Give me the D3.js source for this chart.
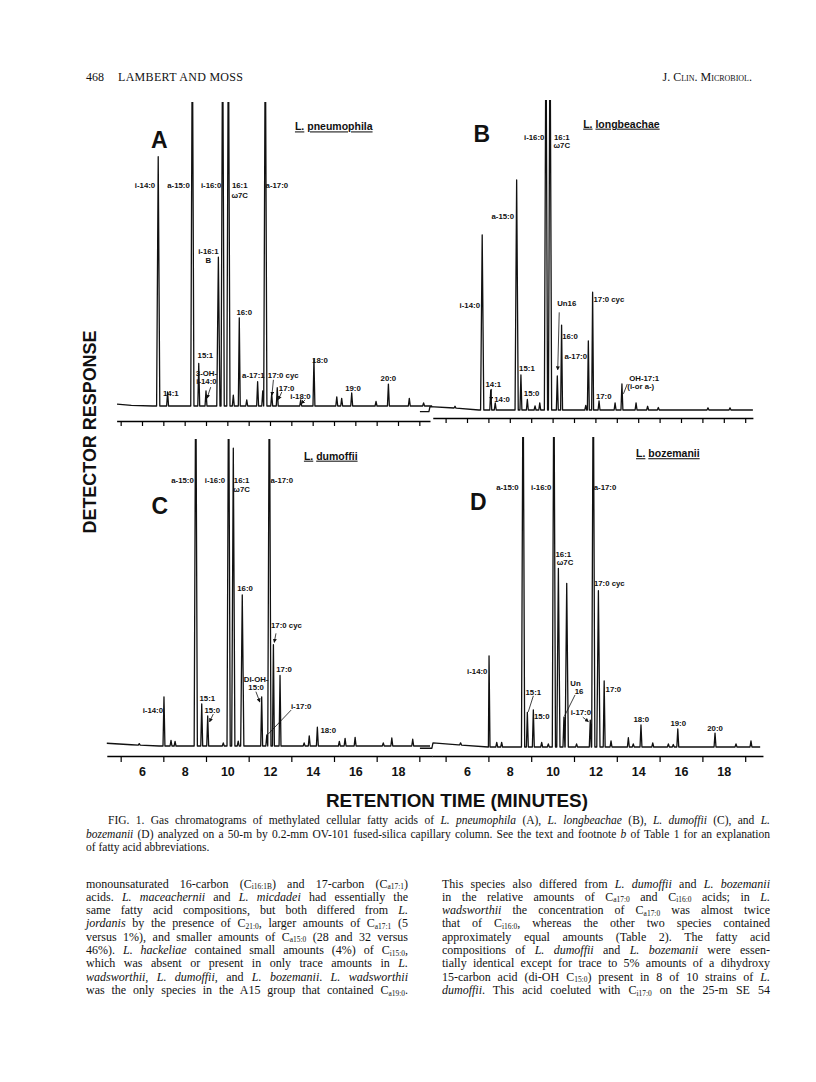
<!DOCTYPE html>
<html>
<head>
<meta charset="utf-8">
<script src="https://cdn.jsdelivr.net/npm/d3@7"></script>
<style>
body { margin: 0; background: #fff; }
svg text { fill: #111; }
.pk { font-family: "Liberation Sans Narrow", "Liberation Sans", Arial, sans-serif; font-weight: bold; font-size: 7.8px; }
.letter { font-family: "Liberation Sans", Arial, sans-serif; font-weight: bold; font-size: 23px; }
.species { font-family: "Liberation Sans", Arial, sans-serif; font-weight: bold; font-size: 10.5px; }
.axlab { font-family: "Liberation Sans Narrow", "Liberation Sans", Arial, sans-serif; font-weight: bold; font-size: 12.5px; }
.title { font-family: "Liberation Sans Narrow", "Liberation Sans", Arial, sans-serif; font-weight: bold; }
.serif { font-family: "Liberation Serif", "Times New Roman", serif; }
</style>
</head>
<body>
<svg id="page" width="816" height="1082"></svg>
<script>
// peaks: [retention time (min), response (% of panel height)]; >100 = off scale
var peaksA = [[6.76, 82], [7.20, 4.6], [8.36, 130], [8.66, 14], [9.00, 5], [9.58, 49], [9.78, 130],
    [10.05, 130], [10.28, 3.6], [10.56, 29], [10.91, 2], [11.42, 8], [11.66, 5], [11.78, 130],
    [12.08, 4], [12.34, 6], [13.44, 2], [14.06, 15.5], [15.13, 3], [15.36, 2.5], [15.83, 4.3],
    [16.97, 1.5], [17.55, 7.2], [18.53, 2.5], [19.2, 1]];
var peaksB = [[5.44, 0.6], [6.71, 56.5], [7.11, 6.5], [7.32, 2.3], [8.32, 74.2], [8.52, 11.3],
    [8.82, 3.4], [9.18, 1.3], [9.40, 2.3], [9.69, 130], [9.88, 130], [10.22, 11], [10.42, 27.4],
    [11.55, 1.5], [11.67, 22.3], [11.87, 38], [12.17, 2.9], [12.92, 2.3], [13.24, 8.4],
    [13.90, 2.3], [14.44, 1.2], [14.94, 0.8], [17.26, 0.7], [18.29, 0.7]];
var peaksC = [[5.87, 0.5], [7.03, 16], [7.36, 1.8], [7.55, 1.5], [8.52, 130], [8.80, 13.7],
    [9.08, 9.8], [9.81, 1], [10.06, 130], [10.28, 97], [10.51, 1.6], [10.70, 49.2], [11.61, 16],
    [11.85, 3.6], [11.97, 130], [12.16, 33], [12.47, 23], [13.60, 1], [13.84, 3.3], [14.22, 6.1],
    [15.25, 1.5], [15.52, 2.5], [15.99, 2.8], [17.31, 1], [17.71, 2.6], [18.69, 2.2]];
var peaksD = [[5.70, 0.7], [7.03, 29.4], [7.39, 1.5], [7.62, 1.5], [8.62, 130], [8.82, 11.2],
    [9.10, 12], [9.49, 1.5], [9.80, 1], [10.06, 130], [10.27, 57.6], [10.53, 9.6], [10.66, 52.8],
    [11.12, 1], [11.76, 8.7], [11.90, 130], [12.14, 50.4], [12.41, 21.3], [12.73, 2], [13.54, 3],
    [13.77, 1], [14.13, 7.1], [14.68, 1.3], [15.41, 1], [15.64, 0.8], [15.85, 5.8], [17.59, 4.5],
    [18.57, 1], [19.27, 2]];

// slow baseline drift: [time, level]
var driftA = [[4.83, 0.6], [5.5, 0.2], [6.5, 0], [19.6, 0]];
var driftB = [[3.8, -0.5], [4.22, -0.5], [4.27, 1.1], [5.5, 0.6], [6.55, 0], [19.36, 0]];
var driftC = [[4.35, 0.9], [5.5, 0.4], [6.8, 0], [19.5, 0]];
var driftD = [[3.8, -0.4], [4.36, -0.4], [4.41, 1.3], [5.6, 0.7], [7.0, 0], [19.7, 0]];

// peak labels: [text, time, response]
var labelsA = [["i-14:0", 6.14, 72.7], ["a-15:0", 7.71, 72.7], ["i-16:0", 9.24, 72.7],
    ["16:1", 10.58, 72.7], ["\u03c97C", 10.58, 69.4], ["a-17:0", 12.32, 72.7],
    ["i-16:1", 9.11, 50.8], ["B", 9.11, 47.8], ["16:0", 10.79, 30.8], ["15:1", 8.97, 16.8],
    ["3-OH-", 9.02, 10.8], ["i-14:0", 9.02, 8.0], ["14:1", 7.35, 4.2], ["a-17:1", 11.22, 10.2],
    ["17:0 cyc", 12.62, 10.2], ["17:0", 12.78, 5.8], ["i-18:0", 13.43, 3.3], ["18:0", 14.34, 15.1],
    ["19:0", 15.89, 5.8], ["20:0", 17.55, 9.1]];
var labelsB = [["i-16:0", 9.14, 88], ["16:1", 10.43, 88], ["\u03c97C", 10.43, 85.5],
    ["a-15:0", 7.67, 62.4], ["i-14:0", 6.13, 33.9], ["Un16", 10.66, 34.4], ["16:0", 10.81, 23.9],
    ["a-17:0", 11.08, 17.4], ["17:0 cyc", 12.63, 35.7], ["15:1", 8.80, 13.5], ["14:1", 7.23, 8.4],
    ["14:0", 7.64, 3.5], ["15:0", 9.02, 5.4], ["17:0", 12.39, 4.3], ["OH-17:1", 14.28, 10.2],
    ["(i-or a-)", 14.12, 7.5]];
var labelsC = [["a-15:0", 7.90, 86.6], ["i-16:0", 9.42, 86.6], ["16:1", 10.67, 86.6],
    ["\u03c97C", 10.67, 83.7], ["a-17:0", 12.55, 86.6], ["16:0", 10.83, 51.4],
    ["17:0 cyc", 12.77, 39.2], ["17:0", 12.66, 25], ["DI-OH-", 11.35, 21.7], ["15:0", 11.35, 19.1],
    ["15:1", 9.06, 15.5], ["15:0", 9.29, 11.7], ["i-14:0", 6.51, 11.5], ["i-17:0", 13.46, 12.8],
    ["18:0", 14.73, 5.2]];
var labelsD = [["a-15:0", 7.89, 83.8], ["i-16:0", 9.47, 83.8], ["a-17:0", 12.45, 83.8],
    ["16:1", 10.5, 62.3], ["\u03c97C", 10.58, 59.5], ["17:0 cyc", 12.65, 52.8],
    ["i-14:0", 6.48, 24.5], ["15:1", 9.10, 17.8], ["Un", 11.07, 20.5], ["16", 11.24, 18.1],
    ["17:0", 12.84, 18.6], ["15:0", 9.49, 10], ["i-17:0", 11.32, 11.1], ["18:0", 14.14, 8.9],
    ["19:0", 15.87, 7.6], ["20:0", 17.59, 6.0]];

// pointer lines: [t1, v1, t2, v2, arrowhead]
var arrowsA = [[9.22, 6.2, 9.05, 2.6, 1], [12.16, 8.6, 12.09, 3.6, 1], [12.55, 4.6, 12.40, 2.2, 1],
    [13.64, 2.0, 13.48, 0.8, 1]];
var arrowsB = [[10.31, 31.5, 10.24, 13, 1], [7.15, 6.8, 7.12, 3.2, 1], [13.49, 8.4, 13.31, 5.2, 0]];
var arrowsC = [[12.28, 36.7, 12.20, 33.8, 1], [11.34, 17.7, 11.52, 14.4, 1],
    [9.34, 10.4, 9.17, 7.9, 1], [12.99, 11.7, 11.92, 3.9, 0]];
var arrowsD = [[9.10, 16.5, 8.86, 11.3, 0], [11.05, 16.8, 10.55, 9.9, 0], [11.41, 9.6, 11.67, 8.2, 1]];

var minorTicks = d3.range(5, 20);
var oddTicks = [5, 7, 9, 11, 13, 15, 17, 19];
var evenTicks = [6, 8, 10, 12, 14, 16, 18];

var leftLines = [
    "monounsaturated 16-carbon (C_{i16:1B}) and 17-carbon (C_{a17:1})",
    "acids. *L. maceachernii* and *L. micdadei* had essentially the",
    "same fatty acid compositions, but both differed from *L.*",
    "*jordanis* by the presence of C_{21:0}, larger amounts of C_{a17:1} (5",
    "versus 1%), and smaller amounts of C_{a15:0} (28 and 32 versus",
    "46%). *L. hackeliae* contained small amounts (4%) of C_{i15:0},",
    "which was absent or present in only trace amounts in *L.*",
    "*wadsworthii*, *L. dumoffii*, and *L. bozemanii*. *L. wadsworthii*",
    "was the only species in the A15 group that contained C_{a19:0}."
];
var rightLines = [
    "This species also differed from *L. dumoffii* and *L. bozemanii*",
    "in the relative amounts of C_{a17:0} and C_{i16:0} acids; in *L.*",
    "*wadsworthii* the concentration of C_{a17:0} was almost twice",
    "that of C_{i16:0}, whereas the other two species contained",
    "approximately equal amounts (Table 2). The fatty acid",
    "compositions of *L. dumoffii* and *L. bozemanii* were essen-",
    "tially identical except for trace to 5% amounts of a dihydroxy",
    "15-carbon acid (di-OH C_{15:0}) present in 8 of 10 strains of *L.*",
    "*dumoffii*. This acid coeluted with C_{i17:0} on the 25-m SE 54"
];
var captionLines = [
    "FIG. 1. Gas chromatograms of methylated cellular fatty acids of *L. pneumophila* (A), *L. longbeachae* (B), *L. dumoffii* (C), and *L.*",
    "*bozemanii* (D) analyzed on a 50-m by 0.2-mm OV-101 fused-silica capillary column. See the text and footnote *b* of Table 1 for an explanation",
    "of fatty acid abbreviations."
];

var svg = d3.select("#page");

svg.append("defs").append("marker")
    .attr("id", "ah")
    .attr("viewBox", "0 0 6 6")
    .attr("refX", 5).attr("refY", 3)
    .attr("markerWidth", 5).attr("markerHeight", 5)
    .attr("orient", "auto")
    .append("path").attr("d", "M0,0L6,3L0,6z").attr("fill", "#111");

/**** x scales, one per column ****/
var xLeft = d3.scaleLinear().domain([6, 18]).range([142, 398]);
var xRight = d3.scaleLinear().domain([6, 18]).range([467, 723.8]);

var panels = [
    {id: "A", peaks: peaksA, drift: driftA, labels: labelsA, arrows: arrowsA, x: xLeft, base: 406, top: 102,
        species: "pneumophila", letterAt: [6.81, 87.5], speciesAt: [13.17, 91.9]},
    {id: "B", peaks: peaksB, drift: driftB, labels: labelsB, arrows: arrowsB, x: xRight, base: 410, top: 100,
        species: "longbeachae", letterAt: [6.69, 89], speciesAt: [11.43, 92.3]},
    {id: "C", peaks: peaksC, drift: driftC, labels: labelsC, arrows: arrowsC, x: xLeft, base: 746, top: 439,
        species: "dumoffii", letterAt: [6.84, 78.2], speciesAt: [13.59, 94.5]},
    {id: "D", peaks: peaksD, drift: driftD, labels: labelsD, arrows: arrowsD, x: xRight, base: 747, top: 437,
        species: "bozemanii", letterAt: [6.53, 79.1], speciesAt: [13.9, 94.7]}
];

// vertices of the trace: drift points plus a narrow spike per peak
function tracePoints(p) {
    var level = d3.scaleLinear()
        .domain(p.drift.map(function(d) { return d[0]; }))
        .range(p.drift.map(function(d) { return d[1]; }))
        .clamp(true);
    var pts = p.drift.slice();
    p.peaks.forEach(function(d) {
        var w = d[1] > 40 ? 0.075 : 0.045;
        pts.push([d[0] - w, level(d[0] - w)]);
        pts.push([d[0], level(d[0]) + d[1]]);
        pts.push([d[0] + w, level(d[0] + w)]);
    });
    return pts.sort(function(a, b) { return a[0] - b[0]; });
}

panels.forEach(function(p, i) {
    var y = d3.scaleLinear().domain([0, 100]).range([p.base, p.top]);
    var g = svg.append("g").attr("class", "panel");
    var t0 = p.drift[0][0], t1 = p.drift[p.drift.length - 1][0];

    g.append("clipPath").attr("id", "clip" + i)
        .append("rect")
        .attr("x", p.x(t0) - 2).attr("y", p.top)
        .attr("width", p.x(t1) - p.x(t0) + 4).attr("height", p.base - p.top + 30);

    var line = d3.line()
        .x(function(d) { return p.x(d[0]); })
        .y(function(d) { return y(d[1]); });

    g.append("path")
        .datum(tracePoints(p))
        .attr("clip-path", "url(#clip" + i + ")")
        .attr("d", line)
        .attr("fill", "none")
        .attr("stroke", "#111")
        .attr("stroke-width", 1.3)
        .attr("stroke-linejoin", "round");

    g.selectAll("text.pk")
        .data(p.labels)
        .enter().append("text")
        .attr("class", "pk")
        .attr("text-anchor", "middle")
        .attr("dy", "0.35em")
        .attr("x", function(d) { return p.x(d[1]); })
        .attr("y", function(d) { return y(d[2]); })
        .text(function(d) { return d[0]; });

    g.selectAll("line.ptr")
        .data(p.arrows)
        .enter().append("line")
        .attr("class", "ptr")
        .attr("x1", function(d) { return p.x(d[0]); })
        .attr("y1", function(d) { return y(d[1]); })
        .attr("x2", function(d) { return p.x(d[2]); })
        .attr("y2", function(d) { return y(d[3]); })
        .attr("stroke", "#111")
        .attr("stroke-width", 0.8)
        .attr("marker-end", function(d) { return d[4] ? "url(#ah)" : null; });

    g.append("text").attr("class", "letter")
        .attr("text-anchor", "middle").attr("dy", "0.36em")
        .attr("x", p.x(p.letterAt[0])).attr("y", y(p.letterAt[1]))
        .text(p.id);

    var sp = g.append("text").attr("class", "species")
        .attr("dy", "0.36em")
        .attr("x", p.x(p.speciesAt[0])).attr("y", y(p.speciesAt[1]));
    sp.append("tspan").style("text-decoration", "underline").text("L.");
    sp.append("tspan").text(" ");
    sp.append("tspan").style("text-decoration", "underline").text(p.species);
});

/**** axes ****/
function axisAt(x, t0, t1, yPos, ticks, size) {
    var s = x.copy().domain([t0, t1]).range([x(t0), x(t1)]);
    var ax = svg.append("g")
        .attr("transform", "translate(0," + yPos + ")")
        .call(d3.axisBottom(s).tickValues(ticks).tickSize(size).tickSizeOuter(0).tickFormat(""));
    ax.select(".domain").attr("stroke-width", 1.6);
    ax.selectAll(".tick line").attr("stroke-width", 1.2);
    return ax;
}

function axisLabels(x, yPos) {
    var ax = svg.append("g")
        .attr("transform", "translate(0," + yPos + ")")
        .call(d3.axisBottom(x).tickValues(evenTicks).tickSize(0).tickPadding(11));
    ax.select(".domain").remove();
    ax.selectAll("text").attr("class", "axlab").attr("font-size", null).attr("font-family", null);
}

axisAt(xLeft, 4.81, 19.5, 421, minorTicks, 5);
axisAt(xRight, 4.4, 19.36, 418, minorTicks, 5);
axisAt(xLeft, 4.35, 19.6, 756, oddTicks, 6);
axisAt(xRight, 4.36, 19.83, 756, oddTicks, 6);
axisLabels(xLeft, 756);
axisLabels(xRight, 756);

svg.append("text").attr("class", "title")
    .attr("x", 457).attr("y", 807)
    .attr("text-anchor", "middle")
    .attr("font-size", 19)
    .attr("textLength", 262).attr("lengthAdjust", "spacingAndGlyphs")
    .text("RETENTION TIME (MINUTES)");

svg.append("text").attr("class", "title")
    .attr("transform", "translate(96,432) rotate(-90)")
    .attr("text-anchor", "middle")
    .attr("font-size", 18)
    .attr("textLength", 203).attr("lengthAdjust", "spacingAndGlyphs")
    .text("DETECTOR RESPONSE");

/**** page text ****/
svg.append("text").attr("class", "serif").attr("font-size", 12)
    .attr("x", 86).attr("y", 81).text("468");
svg.append("text").attr("class", "serif").attr("font-size", 12)
    .attr("x", 118).attr("y", 81)
    .attr("textLength", 125).attr("lengthAdjust", "spacing")
    .text("LAMBERT AND MOSS");
svg.append("text").attr("class", "serif").attr("font-size", 12)
    .attr("x", 752).attr("y", 81).attr("text-anchor", "end")
    .style("font-variant", "small-caps")
    .text("J. Clin. Microbiol.");

// one justified line with *italic* and _{subscript} runs
function richLine(x, yPos, str, size, width) {
    var t = svg.append("text").attr("class", "serif")
        .attr("x", x).attr("y", yPos).attr("font-size", size);
    var wasSub = false;
    str.split(/(\*[^*]+\*|_\{[^}]+\})/).forEach(function(tok) {
        if (!tok) return;
        var ts = t.append("tspan");
        if (tok[0] === "*") {
            ts.attr("font-style", "italic").text(tok.slice(1, -1));
        } else if (tok[0] === "_") {
            ts.attr("font-size", size * 0.62).attr("dy", 1.6).text(tok.slice(2, -1));
        } else {
            ts.text(tok);
        }
        if (wasSub && tok[0] !== "_") ts.attr("dy", -1.6);
        wasSub = tok[0] === "_";
    });
    if (width) {
        var natural = t.node().getComputedTextLength();
        var spaces = (t.text().match(/ /g) || []).length;
        if (spaces) t.style("word-spacing", Math.max(0, (width - natural) / spaces) + "px");
    }
}

captionLines.forEach(function(l, i) {
    var x0 = i === 0 ? 108 : 86;
    richLine(x0, 824 + i * 13.5, l, 11.5, i < 2 ? 770 - x0 : null);
});
leftLines.forEach(function(l, i) {
    richLine(86, 887.5 + i * 13.33, l, 12, 322);
});
rightLines.forEach(function(l, i) {
    richLine(442, 887.5 + i * 13.33, l, 12, 328);
});
</script>
</body>
</html>
